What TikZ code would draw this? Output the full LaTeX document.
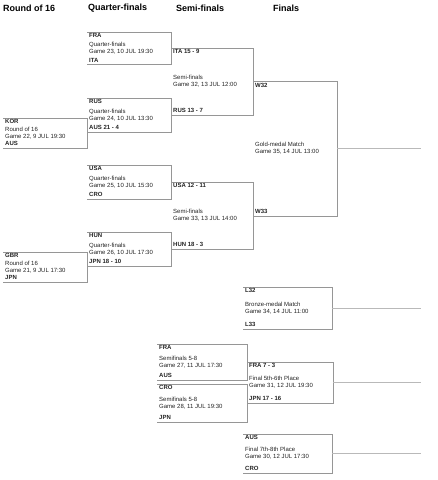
\documentclass[tikz,border=0pt]{standalone}
\usepackage{fontspec}
\setmainfont{Liberation Sans}
\usetikzlibrary{positioning}
\definecolor{BracketGray}{RGB}{150,150,150}
\definecolor{LeadGray}{RGB}{185,185,185}
\definecolor{LabelDark}{RGB}{35,35,35}

\begin{document}
\begin{tikzpicture}[x=1pt,y=-1pt,
match/.style={rectangle,anchor=north west,inner sep=0pt},
bracket/.style={draw=BracketGray,line width=0.8pt},
lead/.style={draw=LeadGray,line width=0.9pt},
heading/.style={anchor=west,inner sep=0pt,font=\fontsize{9}{10}\selectfont\bfseries},
team/.style={inner xsep=2pt,inner ysep=1.5pt,text=LabelDark,font=\fontsize{6}{7}\selectfont\bfseries},
info/.style={anchor=west,inner xsep=2pt,inner ysep=0pt,align=left,text=LabelDark,font=\fontsize{6}{7}\selectfont}
]
\useasboundingbox (0,0) rectangle (438,480);

% column headings
\node[heading] (h16) at (3,8) {Round of 16};
\node[heading] (hqf) at (88,8) {Quarter-finals};
\node[heading] (hsf) at (176,8) {Semi-finals};
\node[heading] (hfi) at (273,8) {Finals};

% match boxes
\node[match,minimum width=84pt,minimum height=30pt] (r16a) at (3,118) {};
\node[match,minimum width=84pt,minimum height=30pt] (r16b) at (3,252) {};
\node[match,minimum width=84pt,minimum height=32pt] (qf1) at (87,32) {};
\node[match,minimum width=84pt,minimum height=34pt] (qf2) at (87,98) {};
\node[match,minimum width=84pt,minimum height=34pt] (qf3) at (87,165) {};
\node[match,minimum width=84pt,minimum height=34pt] (qf4) at (87,232) {};
\node[match,minimum width=82pt,minimum height=67pt] (sf1) at (171,48) {};
\node[match,minimum width=82pt,minimum height=67pt] (sf2) at (171,182) {};
\node[match,minimum width=84pt,minimum height=134pt] (fin) at (253,81.5) {};
\node[match,minimum width=89pt,minimum height=42pt] (bronze) at (243,287) {};
\node[match,minimum width=90pt,minimum height=36pt] (cs1) at (157,344) {};
\node[match,minimum width=90pt,minimum height=38pt] (cs2) at (157,384) {};
\node[match,minimum width=86pt,minimum height=41pt] (p56) at (247,362) {};
\node[match,minimum width=89pt,minimum height=39pt] (p78) at (243,434) {};

\foreach \m in {r16a,r16b,qf1,qf2,qf3,qf4,sf1,sf2,fin,bronze,cs1,cs2,p56,p78}
  \draw[bracket] (\m.north west) -- (\m.north east) -- (\m.south east) -- (\m.south west);

% placings leave the chart
\foreach \m in {fin,bronze,p56,p78}{
  \coordinate (\m-out) at (421,0 |- \m.east);
  \draw[lead] (\m.east) -- (\m-out);
}

% teams and game info
\foreach \m/\tA/\inf/\tB in {
  r16a/KOR/{Round of 16\\Game 22, 9 JUL 19:30}/AUS,
  r16b/GBR/{Round of 16\\Game 21, 9 JUL 17:30}/JPN,
  qf1/FRA/{Quarter-finals\\Game 23, 10 JUL 19:30}/ITA,
  qf2/RUS/{Quarter-finals\\Game 24, 10 JUL 13:30}/AUS 21 - 4,
  qf3/USA/{Quarter-finals\\Game 25, 10 JUL 15:30}/CRO,
  qf4/HUN/{Quarter-finals\\Game 26, 10 JUL 17:30}/JPN 18 - 10,
  sf1/ITA 15 - 9/{Semi-finals\\Game 32, 13 JUL 12:00}/RUS 13 - 7,
  sf2/USA 12 - 11/{Semi-finals\\Game 33, 13 JUL 14:00}/HUN 18 - 3,
  fin/W32/{Gold-medal Match\\Game 35, 14 JUL 13:00}/W33,
  bronze/L32/{Bronze-medal Match\\Game 34, 14 JUL 11:00}/L33,
  cs1/FRA/{Semifinals 5-8\\Game 27, 11 JUL 17:30}/AUS,
  cs2/CRO/{Semifinals 5-8\\Game 28, 11 JUL 19:30}/JPN,
  p56/FRA 7 - 3/{Final 5th-6th Place\\Game 31, 12 JUL 19:30}/JPN 17 - 16,
  p78/AUS/{Final 7th-8th Place\\Game 30, 12 JUL 17:30}/CRO}{
  \node[team,anchor=north west] (\m-a) at (\m.north west) {\tA};
  \node[info] (\m-info) at (\m.west) {\inf};
  \node[team,anchor=south west,inner ysep=2.2pt] (\m-b) at (\m.south west) {\tB};
}
\end{tikzpicture}
\end{document}
